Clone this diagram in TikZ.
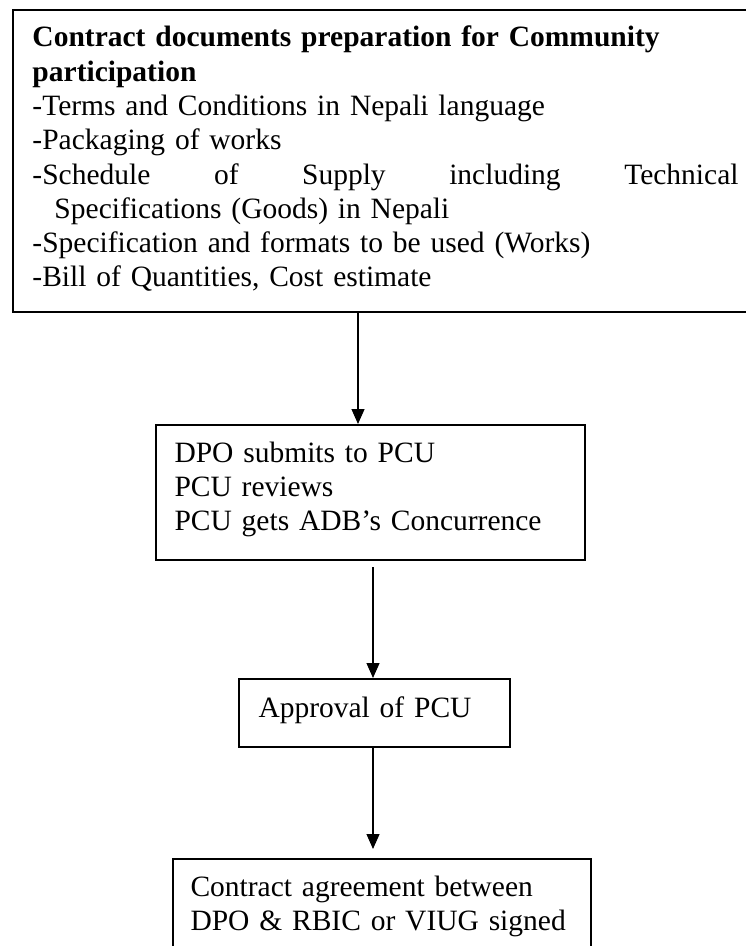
\documentclass[tikz,border=0pt]{standalone}
\usepackage{fontspec}
\setmainfont{Liberation Serif}
\usetikzlibrary{arrows.meta,calc}
\begin{document}
\begin{tikzpicture}[x=0.4pt,y=-0.4pt,
  frame/.style={draw=black, line width=0.8pt, rectangle, inner sep=0pt, anchor=north west},
  body/.style={anchor=base west, inner sep=0pt, align=left,
    font=\fontsize{11.8}{13.7}\selectfont},
  flow/.style={draw=black, line width=0.5pt, -{Triangle[length=6pt,width=5.2pt]}}
]
\useasboundingbox (0,0) rectangle (746,946);
\clip (0,0) rectangle (746,946);

% boxes
\node[frame, minimum width=298.4pt, minimum height=120.8pt] (prep) at (12,9) {};
\node[frame, minimum width=171.6pt, minimum height=54pt] (submit) at (155,424) {};
\node[frame, minimum width=108.4pt, minimum height=27.2pt] (approve) at (238,678) {};
\node[frame, minimum width=167.2pt, minimum height=36.8pt] (sign) at (172,858) {};

% box texts
\node[body, text width=282.4pt] (prepText) at (32,47)
  {\textbf{Contract documents preparation for Community}\\
   \textbf{participation}\\
   -Terms and Conditions in Nepali language\\
   -Packaging of works\\
   \leavevmode\hbox to 282.4pt{-Schedule\hfill of\hfill Supply\hfill including\hfill Technical}\\
   \hspace*{8.8pt}Specifications (Goods) in Nepali\\
   -Specification and formats to be used (Works)\\
   -Bill of Quantities, Cost estimate};
\node[body, text width=165pt] (submitText) at (174,462)
  {DPO submits to PCU\\
   PCU reviews\\
   PCU gets ADB’s Concurrence};
\node[body, text width=100pt] (approveText) at (258,717) {Approval of PCU};
\node[body, text width=160pt] (signText) at (190,896)
  {Contract agreement between\\
   DPO \& RBIC or VIUG signed};

% connectors
\coordinate (c1) at (358,0);
\coordinate (c2) at (373,0);
\draw[flow] (c1 |- prep.south) -- (c1 |- submit.north);
\draw[flow] ($(c2 |- submit.south)+(0,6)$) -- (c2 |- approve.north);
\draw[flow] (c2 |- approve.south) -- ($(c2 |- sign.north)+(0,-9)$);
\end{tikzpicture}
\end{document}
